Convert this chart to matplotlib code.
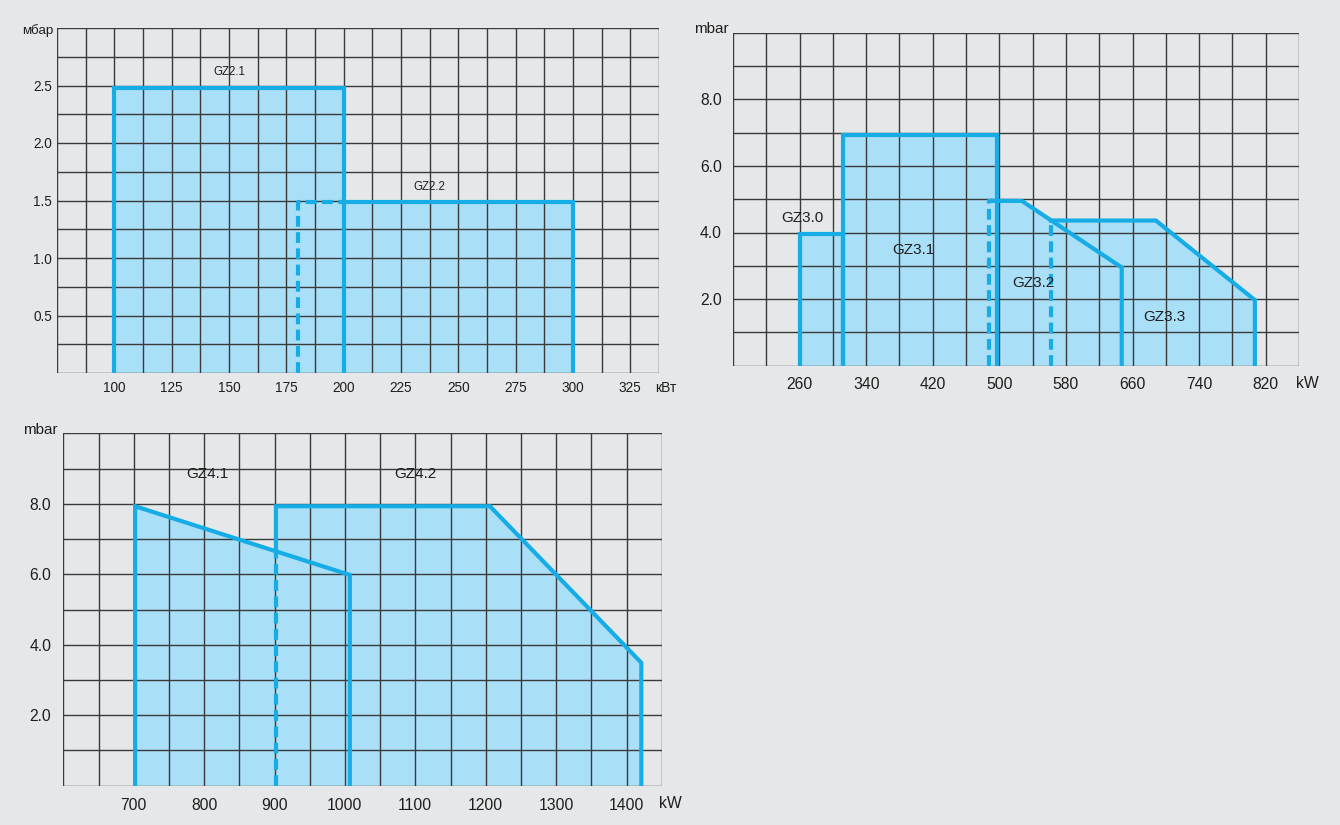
import numpy as np
import matplotlib.pyplot as plt

plt.rcParams['font.family'] = ['Liberation Sans', 'DejaVu Sans']

# ---- data (kW / kВт vs mbar) ----
gz21_kw = [100, 100, 200, 200]
gz21_mbar = [0, 2.48, 2.48, 0]
gz22_kw = [180, 180, 200, 300, 300]
gz22_mbar = [0, 1.49, 1.49, 1.49, 0]

gz30_kw = [261, 261, 312, 312]
gz30_mbar = [0, 3.95, 3.95, 0]
gz31_kw = [312, 312, 497, 497]
gz31_mbar = [0, 6.93, 6.93, 0]
gz32_kw = [488, 488, 527, 647, 647]
gz32_mbar = [0, 4.95, 4.95, 2.95, 0]
gz33_kw = [562, 562, 688, 807, 807]
gz33_mbar = [0, 4.36, 4.36, 1.97, 0]

gz41_kw = [702, 702, 1007, 1007]
gz41_mbar = [0, 7.93, 5.98, 0]
gz42_kw = [902, 902, 1206, 1421, 1421]
gz42_mbar = [0, 7.93, 7.93, 3.49, 0]

x1_ticks = [100, 125, 150, 175, 200, 225, 250, 275, 300, 325]
y1_ticks = [0.5, 1.0, 1.5, 2.0, 2.5]
x2_ticks = [260, 340, 420, 500, 580, 660, 740, 820]
y2_ticks = [2.0, 4.0, 6.0, 8.0]
x3_ticks = [700, 800, 900, 1000, 1100, 1200, 1300, 1400]
y3_ticks = [2.0, 4.0, 6.0, 8.0]

BG = '#e6e7e9'
FILL = '#a9dff7'
EDGE = '#16ade6'
GRID = '#3a3a3a'
TXT = '#1e1e1e'

W, H = 1340, 825
fig = plt.figure(figsize=(13.4, 8.25), dpi=100)
fig.patch.set_facecolor(BG)


def px_axes(l, t, r, b):
    return fig.add_axes([l / W, 1 - b / H, (r - l) / W, (b - t) / H])


def setup(ax, xlim, ylim, xstep, ystep, xt, yt, fs, xpad, ypad):
    ax.set_xlim(xlim)
    ax.set_ylim(ylim)
    ax.set_facecolor('none')
    for x in np.arange(xlim[0], xlim[1] + xstep / 2, xstep):
        ax.axvline(x, color=GRID, lw=1.0, zorder=3)
    for y in np.arange(ylim[0], ylim[1] + ystep / 2, ystep):
        ax.axhline(y, color=GRID, lw=1.0, zorder=3)
    ax.set_xticks(xt)
    ax.set_xticklabels([str(v) for v in xt])
    ax.set_yticks(yt)
    ax.set_yticklabels(['%.1f' % v for v in yt])
    ax.tick_params(axis='x', length=0, labelsize=fs, pad=xpad, colors=TXT)
    ax.tick_params(axis='y', length=0, labelsize=fs, pad=ypad, colors=TXT)
    for s in ax.spines.values():
        s.set_visible(False)


def region(ax, kw, mbar, dashed_to=0):
    # fill under grid, outline above; first `dashed_to` segments dashed
    ax.fill(kw, mbar, color=FILL, lw=0, zorder=1)
    if dashed_to:
        ax.plot(kw[:dashed_to + 1], mbar[:dashed_to + 1], color=EDGE, lw=3,
                ls=(0, (2.6, 1.3)), solid_capstyle='butt', zorder=4)
    ax.plot(kw[dashed_to:], mbar[dashed_to:], color=EDGE, lw=3,
            solid_joinstyle='miter', zorder=5)


# chart 1
ax1 = px_axes(57, 28, 659, 373)
setup(ax1, (75, 337.5), (0, 3.0), 12.5, 0.25, x1_ticks, y1_ticks, 9.8, 6, 3.5)
region(ax1, gz21_kw, gz21_mbar)
region(ax1, gz22_kw, gz22_mbar, dashed_to=2)
ax1.text(150, 2.62, 'GZ2.1', ha='center', va='center', fontsize=8.3, color=TXT, zorder=6)
ax1.text(237.5, 1.62, 'GZ2.2', ha='center', va='center', fontsize=8.3, color=TXT, zorder=6)
fig.text(53 / W, 1 - 31 / H, 'мбар', ha='right', va='center', fontsize=9.6, color=TXT)
fig.text(666 / W, 1 - 388 / H, 'кВт', ha='center', va='center', fontsize=10, color=TXT)

# chart 2
ax2 = px_axes(733, 32.7, 1299, 365.7)
setup(ax2, (180, 860), (0, 10), 40, 1.0, x2_ticks, y2_ticks, 11.3, 8, 8)
region(ax2, gz30_kw, gz30_mbar)
region(ax2, gz31_kw, gz31_mbar)
region(ax2, gz32_kw, gz32_mbar, dashed_to=1)
region(ax2, gz33_kw, gz33_mbar, dashed_to=1)
for lbl, x, y in [('GZ3.0', 263, 4.45), ('GZ3.1', 397, 3.47),
                  ('GZ3.2', 541, 2.49), ('GZ3.3', 698, 1.47)]:
    ax2.text(x, y, lbl, ha='center', va='center', fontsize=11, color=TXT, zorder=6)
fig.text(711 / W, 1 - 29 / H, 'mbar', ha='center', va='center', fontsize=11, color=TXT)
fig.text(1307 / W, 1 - 383 / H, 'kW', ha='center', va='center', fontsize=11.3, color=TXT)

# chart 3
ax3 = px_axes(63.3, 433.3, 661.7, 785.7)
setup(ax3, (600, 1450), (0, 10), 50, 1.0, x3_ticks, y3_ticks, 11.3, 8.5, 8.5)
region(ax3, gz41_kw, gz41_mbar)
# GZ4.2 left edge is dashed where it lies inside GZ4.1
brk = np.interp(gz42_kw[0], gz41_kw[1:3], gz41_mbar[1:3])
kw42 = gz42_kw[:1] + gz42_kw
mb42 = [gz42_mbar[0], brk] + gz42_mbar[1:]
region(ax3, kw42, mb42, dashed_to=1)
ax3.text(805, 8.85, 'GZ4.1', ha='center', va='center', fontsize=11, color=TXT, zorder=6)
ax3.text(1100, 8.85, 'GZ4.2', ha='center', va='center', fontsize=11, color=TXT, zorder=6)
fig.text(40.5 / W, 1 - 430 / H, 'mbar', ha='center', va='center', fontsize=11, color=TXT)
fig.text(670 / W, 1 - 803 / H, 'kW', ha='center', va='center', fontsize=11.3, color=TXT)

fig.savefig('out.png', dpi=100, facecolor=BG)
